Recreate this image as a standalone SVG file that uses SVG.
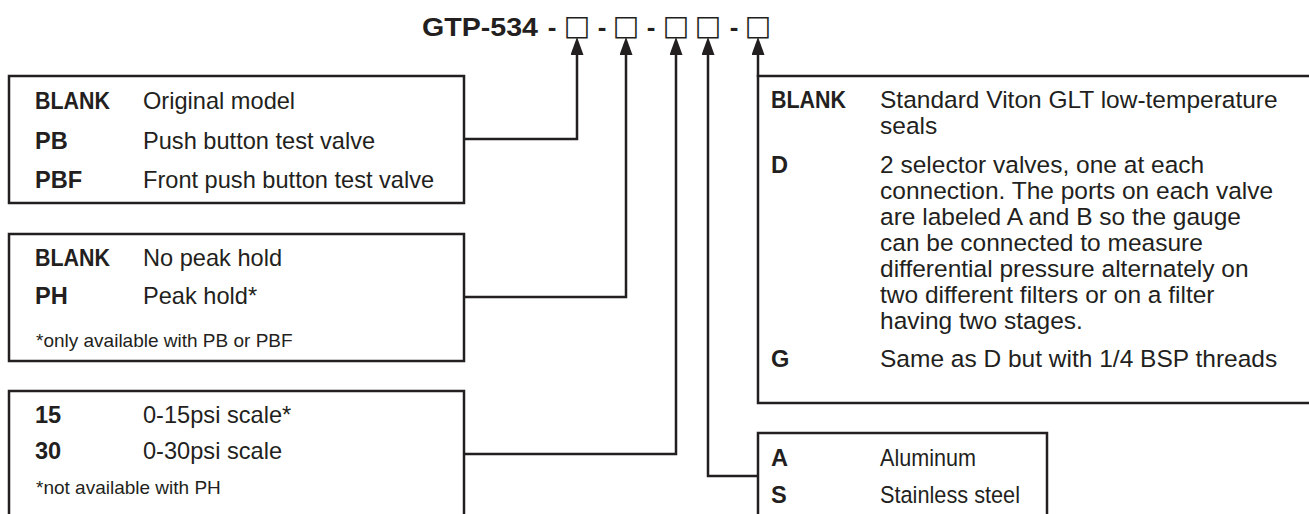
<svg xmlns="http://www.w3.org/2000/svg" width="1309" height="514" viewBox="0 0 1309 514">
<style>
  .box { fill: #ffffff; stroke: #231f20; stroke-width: 2.5; }
  .conn { fill: none; stroke: #231f20; stroke-width: 2.5; }
  .lbl { font-family: "Liberation Sans", Arial, sans-serif; font-weight: bold; font-size: 23.6px; fill: #231f20; }
  .txt { font-family: "Liberation Sans", Arial, sans-serif; font-size: 23.6px; fill: #231f20; }
  .rtxt { font-family: "Liberation Sans", Arial, sans-serif; font-size: 24.5px; fill: #231f20; }
  .note { font-family: "Liberation Sans", Arial, sans-serif; font-size: 19px; fill: #231f20; }
  .title { font-family: "Liberation Sans", Arial, sans-serif; font-weight: bold; font-size: 26px; fill: #231f20; }
  .sq { font-family: "DejaVu Sans", sans-serif; font-size: 28px; fill: #231f20; }
</style>
<defs>
  <marker id="arrow" viewBox="0 0 18 13" refX="0" refY="6.5" markerWidth="18" markerHeight="13" markerUnits="userSpaceOnUse" orient="auto">
    <path d="M0,0 L18,6.5 L0,13 Z" fill="#231f20"/>
  </marker>
</defs>
<rect width="1309" height="514" fill="#ffffff"/>

<g id="title">
  <text class="title" x="422" y="36" textLength="116" lengthAdjust="spacingAndGlyphs">GTP-534</text>
  <text class="title" x="552" y="36" text-anchor="middle">-</text>
  <text class="sq" x="577" y="35" text-anchor="middle">□</text>
  <text class="title" x="602" y="36" text-anchor="middle">-</text>
  <text class="sq" x="626" y="35" text-anchor="middle">□</text>
  <text class="title" x="651" y="36" text-anchor="middle">-</text>
  <text class="sq" x="676" y="35" text-anchor="middle">□</text>
  <text class="sq" x="708" y="35" text-anchor="middle">□</text>
  <text class="title" x="734" y="36" text-anchor="middle">-</text>
  <text class="sq" x="758" y="35" text-anchor="middle">□</text>
</g>

<g id="connectors">
  <path class="conn" d="M464,139 H577 V55" marker-end="url(#arrow)"/>
  <path class="conn" d="M464,297 H626 V55" marker-end="url(#arrow)"/>
  <path class="conn" d="M464,454 H676 V55" marker-end="url(#arrow)"/>
  <path class="conn" d="M758,476 H708 V55" marker-end="url(#arrow)"/>
  <path class="conn" d="M758,77 V55" marker-end="url(#arrow)"/>
</g>

<g id="node-test-valve">
  <rect class="box" x="9" y="76" width="455" height="127"/>
  <text class="lbl" x="35" y="109" textLength="75" lengthAdjust="spacingAndGlyphs">BLANK</text>
  <text class="txt" x="143" y="109">Original model</text>
  <text class="lbl" x="35" y="149">PB</text>
  <text class="txt" x="143" y="149">Push button test valve</text>
  <text class="lbl" x="35" y="188">PBF</text>
  <text class="txt" x="143" y="188">Front push button test valve</text>
</g>

<g id="node-peak-hold">
  <rect class="box" x="9" y="234" width="455" height="127"/>
  <text class="lbl" x="35" y="266" textLength="75" lengthAdjust="spacingAndGlyphs">BLANK</text>
  <text class="txt" x="143" y="266">No peak hold</text>
  <text class="lbl" x="35" y="304">PH</text>
  <text class="txt" x="143" y="304">Peak hold*</text>
  <text class="note" x="36" y="347">*only available with PB or PBF</text>
</g>

<g id="node-scale">
  <rect class="box" x="9" y="391" width="455" height="140"/>
  <text class="lbl" x="35" y="423">15</text>
  <text class="txt" x="143" y="423">0-15psi scale*</text>
  <text class="lbl" x="35" y="459">30</text>
  <text class="txt" x="143" y="459">0-30psi scale</text>
  <text class="note" x="36" y="494">*not available with PH</text>
</g>

<g id="node-seals">
  <rect class="box" x="758" y="76" width="560" height="327"/>
  <text class="lbl" x="771" y="108" textLength="75" lengthAdjust="spacingAndGlyphs">BLANK</text>
  <text class="rtxt" x="880" y="108">Standard Viton GLT low-temperature</text>
  <text class="rtxt" x="880" y="134">seals</text>
  <text class="lbl" x="771" y="173">D</text>
  <text class="rtxt" x="880" y="173">2 selector valves, one at each</text>
  <text class="rtxt" x="880" y="199">connection. The ports on each valve</text>
  <text class="rtxt" x="880" y="225">are labeled A and B so the gauge</text>
  <text class="rtxt" x="880" y="251">can be connected to measure</text>
  <text class="rtxt" x="880" y="277">differential pressure alternately on</text>
  <text class="rtxt" x="880" y="303">two different filters or on a filter</text>
  <text class="rtxt" x="880" y="329">having two stages.</text>
  <text class="lbl" x="771" y="367">G</text>
  <text class="rtxt" x="880" y="367">Same as D but with 1/4 BSP threads</text>
</g>

<g id="node-material">
  <rect class="box" x="758" y="433" width="289" height="100"/>
  <text class="lbl" x="771" y="466">A</text>
  <text class="rtxt" x="880" y="466" textLength="96" lengthAdjust="spacingAndGlyphs">Aluminum</text>
  <text class="lbl" x="771" y="503">S</text>
  <text class="rtxt" x="880" y="503" textLength="140" lengthAdjust="spacingAndGlyphs">Stainless steel</text>
</g>
</svg>
